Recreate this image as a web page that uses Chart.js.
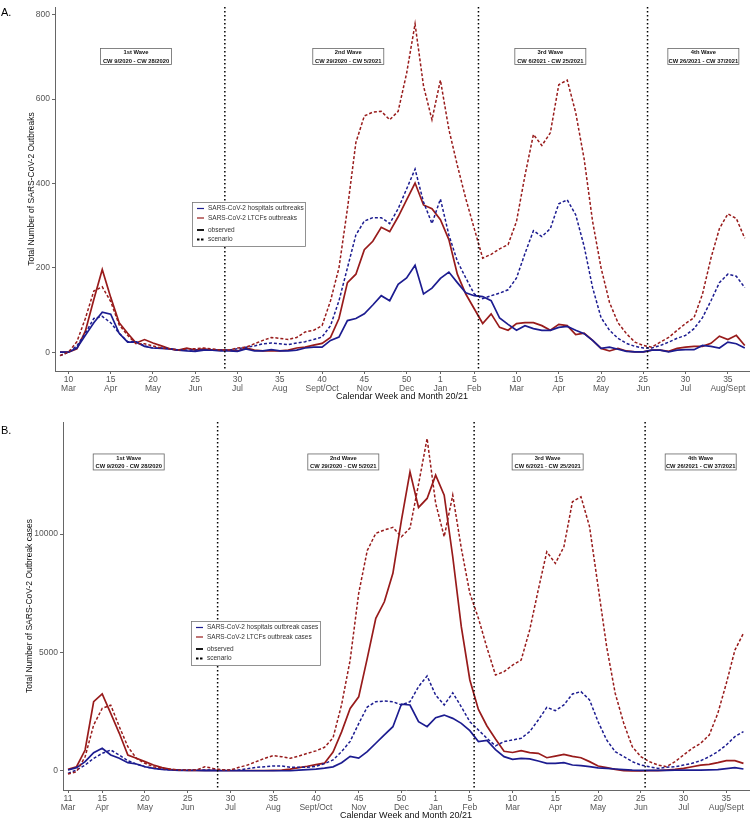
<!DOCTYPE html>
<html>
<head>
<meta charset="utf-8">
<script src="https://cdn.jsdelivr.net/npm/chart.js@4"></script>
<style>
  body { margin: 0; background: #fff; width: 750px; height: 820px; position: relative; overflow: hidden;
         font-family: "Liberation Sans", Arial, sans-serif; }
  canvas { position: absolute; left: 0; }
  #chartA { top: 0; }
  #chartB { top: 400px; }
  .tag { position: absolute; font-size: 11px; color: #000; }
</style>
</head>
<body>
<canvas id="chartA" width="750" height="405"></canvas>
<canvas id="chartB" width="750" height="422"></canvas>
<div class="tag" style="left:1px;top:6px">A.</div>
<div class="tag" style="left:1px;top:424px">B.</div>
<script>
// calendar weeks
const weeks2020A = [9,10,11,12,13,14,15,16,17,18,19,20,21,22,23,24,25,26,27,28,29,30,31,32,33,34,35,36,37,38,39,40,41,42,43,44,45,46,47,48,49,50,51,52,53];
const weeks2020B = [11,12,13,14,15,16,17,18,19,20,21,22,23,24,25,26,27,28,29,30,31,32,33,34,35,36,37,38,39,40,41,42,43,44,45,46,47,48,49,50,51,52,53];
const weeks2021 = [1,2,3,4,5,6,7,8,9,10,11,12,13,14,15,16,17,18,19,20,21,22,23,24,25,26,27,28,29,30,31,32,33,34,35,36,37];

// tick labels (week + month)
const tickWeeksA = ["2020-10","2020-15","2020-20","2020-25","2020-30","2020-35","2020-40","2020-45","2020-50","2021-1","2021-5","2021-10","2021-15","2021-20","2021-25","2021-30","2021-35"];
const tickWeeksB = ["2020-11","2020-15","2020-20","2020-25","2020-30","2020-35","2020-40","2020-45","2020-50","2021-1","2021-5","2021-10","2021-15","2021-20","2021-25","2021-30","2021-35"];
const tickMonths = ["Mar","Apr","May","Jun","Jul","Aug","Sept/Oct","Nov","Dec","Jan","Feb","Mar","Apr","May","Jun","Jul","Aug/Sept"];

// wave borders (between these weeks) and wave labels
const waveBreaks = [["2020-28","2020-29"],["2021-5","2021-6"],["2021-25","2021-26"]];
const waveNames = ["1st Wave","2nd Wave","3rd Wave","4th Wave"];
const wavePeriods = ["CW 9/2020 - CW 28/2020","CW 29/2020 - CW 5/2021","CW 6/2021 - CW 25/2021","CW 26/2021 - CW 37/2021"];

// A. outbreaks (CW 9/2020 - CW 37/2021)
const hospObsA = [0,0,10,40,70,95,90,45,24,24,14,10,9,8,5,3,2,5,5,3,3,2,8,3,3,6,3,3,5,10,12,12,28,36,75,80,91,112,134,122,161,176,206,138,152,
  175,190,165,141,134,132,122,81,66,52,63,56,52,52,59,61,52,44,28,9,12,7,2,1,1,5,5,1,5,6,6,16,14,10,24,20,10];
const ltcfObsA = [0,0,8,50,125,196,130,70,45,22,30,22,15,8,5,10,5,8,5,5,5,3,10,5,3,3,3,5,10,12,17,21,35,80,165,185,243,263,296,286,321,361,401,349,340,
  314,267,185,138,103,68,91,59,52,68,70,70,63,52,66,63,42,45,28,9,3,9,3,1,1,5,5,2,9,12,14,14,21,38,30,40,16];
const hospScenA = [-8,0,15,45,80,85,70,45,25,25,15,10,10,8,5,5,5,5,5,5,5,8,12,15,20,22,20,18,22,25,30,36,63,122,200,278,311,319,319,305,340,387,434,356,305,
  363,278,216,176,138,127,134,140,148,176,234,288,274,293,352,361,326,251,153,82,52,33,21,14,10,10,16,24,33,40,56,82,122,165,185,180,153];
const ltcfScenA = [-8,0,25,80,145,155,120,65,40,20,20,15,10,8,5,8,8,10,8,5,5,10,12,20,28,35,33,30,35,48,52,63,122,200,340,497,560,569,571,551,571,661,778,631,551,
  645,528,443,364,293,223,232,245,255,310,419,516,490,520,634,645,568,458,310,200,118,70,44,24,16,12,24,35,52,68,82,138,223,293,328,317,270];

// B. outbreak cases (CW 11/2020 - CW 37/2021)
const hospObsB = [40,140,395,775,955,675,535,350,295,180,112,70,42,30,20,20,15,15,10,10,10,10,10,10,10,10,10,40,60,75,120,175,350,620,545,815,1170,1520,1870,2825,2785,2080,1870,
  2250,2360,2220,2010,1700,1240,1290,900,605,492,535,510,420,323,323,350,253,225,183,130,112,85,60,40,30,30,30,30,40,40,40,40,50,60,100,140,85];
const ltcfObsB = [70,180,885,2925,3250,2430,1590,675,535,394,253,140,70,42,30,25,25,25,20,20,20,20,20,20,30,40,80,140,200,270,330,800,1650,2640,3130,4750,6440,7140,8340,10590,12625,11120,11500,
  12485,11640,9040,6090,3840,2600,1900,1350,830,780,855,775,745,560,630,700,620,560,395,210,140,70,15,0,0,15,15,40,70,110,180,250,280,350,435,435,320];
const hospScenB = [-100,40,250,535,745,885,675,435,295,180,112,70,50,45,45,45,45,45,45,45,42,100,155,180,210,210,155,155,155,195,310,465,820,1250,2000,2700,2925,2950,2925,2785,2925,3560,4010,
  3200,2785,3300,2710,2080,1730,1380,1060,1240,1310,1380,1660,2150,2685,2545,2785,3250,3350,3000,2080,1310,815,605,395,250,180,110,155,180,250,325,435,605,815,1100,1450,1660];
const ltcfScenB = [-125,-30,600,1940,2640,2780,1870,1025,535,325,180,112,70,42,40,40,180,110,50,40,155,250,395,535,650,605,535,630,745,850,1000,1400,2800,4680,7500,9300,10030,10170,10280,9885,10250,12100,14030,
  11300,9885,11640,9400,7500,6450,5200,4050,4190,4470,4680,5950,7640,9250,8760,9460,11360,11570,10310,7780,5245,3280,2010,1025,605,395,253,183,395,675,955,1170,1520,2430,3700,5100,5810];

const BLUE = "#1c1c90";
const RED = "#981b1b";
const FONT = "'Liberation Sans', Arial, sans-serif";

const panelExtras = {
  id: "panelExtras",
  afterDatasetsDraw(chart, args, cfg) {
    const { ctx, chartArea } = chart;
    const xs = chart.scales.x;
    ctx.save();
    ctx.strokeStyle = "#000";
    ctx.lineWidth = 1.5;
    ctx.setLineDash([1.5, 2.5]);
    cfg.breaks.forEach(b => {
      const x = xs.getPixelForValue(b);
      ctx.beginPath();
      ctx.moveTo(x, chartArea.top);
      ctx.lineTo(x, chartArea.bottom);
      ctx.stroke();
    });
    ctx.restore();
  },
  afterDraw(chart, args, cfg) {
    const { ctx } = chart;
    const xs = chart.scales.x, ys = chart.scales.y;
    ctx.save();
    // wave label boxes
    cfg.waveAt.forEach((pos, i) => {
      const cx = xs.getPixelForValue(pos), cy = ys.getPixelForValue(cfg.waveY);
      const w = 72, h = 17;
      ctx.fillStyle = "#fff";
      ctx.fillRect(cx - w / 2, cy - h / 2, w, h);
      ctx.strokeStyle = "#666";
      ctx.lineWidth = 0.8;
      ctx.setLineDash([]);
      ctx.strokeRect(cx - w / 2 + 0.5, cy - h / 2 + 0.5, w - 1, h - 1);
      ctx.fillStyle = "#111";
      ctx.font = "bold 5.8px " + FONT;
      ctx.textAlign = "center";
      ctx.textBaseline = "middle";
      ctx.fillText(waveNames[i], cx, cy - 4);
      ctx.fillText(wavePeriods[i], cx, cy + 4.5);
    });
    // legend
    const L = cfg.legend;
    ctx.fillStyle = "#fff";
    ctx.fillRect(L.x, L.y, L.w, 45);
    ctx.strokeStyle = "#777";
    ctx.lineWidth = 0.8;
    ctx.strokeRect(L.x + 0.5, L.y + 0.5, L.w - 1, 44);
    const items = [
      { c: BLUE, dash: [], t: L.labels[0], dy: 6.5 },
      { c: RED, dash: [], t: L.labels[1], dy: 16 },
      { c: "#000", dash: [], t: "observed", dy: 28, lw: 1.8 },
      { c: "#000", dash: [2.5, 1.5], t: "scenario", dy: 37.5, lw: 1.8 },
    ];
    ctx.font = "6.5px " + FONT;
    ctx.textAlign = "left";
    ctx.textBaseline = "middle";
    items.forEach(it => {
      ctx.strokeStyle = it.c;
      ctx.lineWidth = it.lw || 1.2;
      ctx.setLineDash(it.dash);
      ctx.beginPath();
      ctx.moveTo(L.x + 5, L.y + it.dy);
      ctx.lineTo(L.x + 12, L.y + it.dy);
      ctx.stroke();
      ctx.fillStyle = "#333";
      ctx.fillText(it.t, L.x + 16, L.y + it.dy);
    });
    ctx.restore();
  }
};

function makePanel(id, cats, obsHosp, obsLtcf, scenHosp, scenLtcf, cfg) {
  const pts = arr => arr.map((v, i) => ({ x: i, y: v }));
  const tickIdx = cfg.tickWeeks.map(k => cats.indexOf(k));
  const breaks = waveBreaks.map(([a, b]) => (cats.indexOf(a) + cats.indexOf(b)) / 2);
  const solid = (data, color) => ({ data: pts(data), borderColor: color, borderWidth: 1.7 });
  const dashed = (data, color) => ({ data: pts(data), borderColor: color, borderWidth: 1.5, borderDash: [3, 2] });
  return new Chart(document.getElementById(id), {
    type: "line",
    data: {
      datasets: [
        dashed(scenLtcf, RED),
        dashed(scenHosp, BLUE),
        solid(obsHosp, BLUE),
        solid(obsLtcf, RED),
      ],
    },
    options: {
      responsive: false,
      animation: false,
      layout: { padding: { top: cfg.top, right: 1, left: 0, bottom: 0 } },
      elements: { point: { radius: 0 }, line: { tension: 0, fill: false } },
      plugins: {
        legend: { display: false },
        tooltip: { enabled: false },
        panelExtras: { breaks: breaks, waveAt: cfg.waveAt, waveY: cfg.waveY, legend: cfg.legend },
      },
      scales: {
        x: {
          type: "linear",
          min: cfg.xMin,
          max: cfg.xMax,
          afterBuildTicks: s => { s.ticks = tickIdx.map(v => ({ value: v })); },
          afterFit: s => { s.height = cfg.xAxisH; },
          ticks: {
            autoSkip: false, maxRotation: 0, color: "#555", padding: 1,
            font: { size: 8.5, family: FONT, lineHeight: 1.05 },
            callback: (v, i) => [cfg.tickWeeks[i].split("-")[1], tickMonths[i]],
          },
          grid: { drawOnChartArea: false, tickLength: 3, color: "#666" },
          border: { color: "#666" },
          title: { display: true, text: "Calendar Week and Month 20/21", color: "#111",
                   font: { size: 9, family: FONT }, padding: { top: 0, bottom: cfg.xTitlePad } },
        },
        y: {
          min: cfg.yMin,
          max: cfg.yMax,
          afterBuildTicks: s => { s.ticks = cfg.yTicks.map(v => ({ value: v })); },
          afterFit: s => { s.width = cfg.yAxisW; },
          ticks: { color: "#555", padding: 2, font: { size: 8.5, family: FONT }, callback: v => String(v) },
          grid: { drawOnChartArea: false, tickLength: 3, color: "#666" },
          border: { color: "#666" },
          title: { display: true, text: cfg.yTitle, color: "#111",
                   font: { size: 8.5, family: FONT }, padding: { top: cfg.yTitlePad, bottom: 0 } },
        },
      },
    },
    plugins: [panelExtras],
  });
}

const catsA = weeks2020A.map(w => "2020-" + w).concat(weeks2021.map(w => "2021-" + w));
const catsB = weeks2020B.map(w => "2020-" + w).concat(weeks2021.map(w => "2021-" + w));

makePanel("chartA", catsA, hospObsA, ltcfObsA, hospScenA, ltcfScenA, {
  top: 3, xAxisH: 34, xTitlePad: 3, yAxisW: 55, yTitlePad: 27,
  xMin: -0.59, xMax: 81.5, yMin: -44.5, yMax: 818, yTicks: [0, 200, 400, 600, 800],
  tickWeeks: tickWeeksA,
  yTitle: "Total Number of SARS-CoV-2 Outbreaks",
  waveAt: [9.0, 34.1, 58.0, 76.1], waveY: 701,
  legend: { x: 192, y: 202, w: 114, labels: ["SARS-CoV-2 hospitals outbreaks", "SARS-CoV-2 LTCFs outbreaks"] },
});

makePanel("chartB", catsB, hospObsB, ltcfObsB, hospScenB, ltcfScenB, {
  top: 22, xAxisH: 32, xTitlePad: 1, yAxisW: 63, yTitlePad: 25,
  xMin: -0.585, xMax: 79.65, yMin: -802, yMax: 14726, yTicks: [0, 5000, 10000],
  tickWeeks: tickWeeksB,
  yTitle: "Total Number of SARS-CoV-2 Outbreak cases",
  waveAt: [7.1, 32.2, 56.1, 74.0], waveY: 13040,
  legend: { x: 191, y: 221, w: 130, labels: ["SARS-CoV-2 hospitals outbreak cases", "SARS-CoV-2 LTCFs outbreak cases"] },
});
</script>
</body>
</html>
